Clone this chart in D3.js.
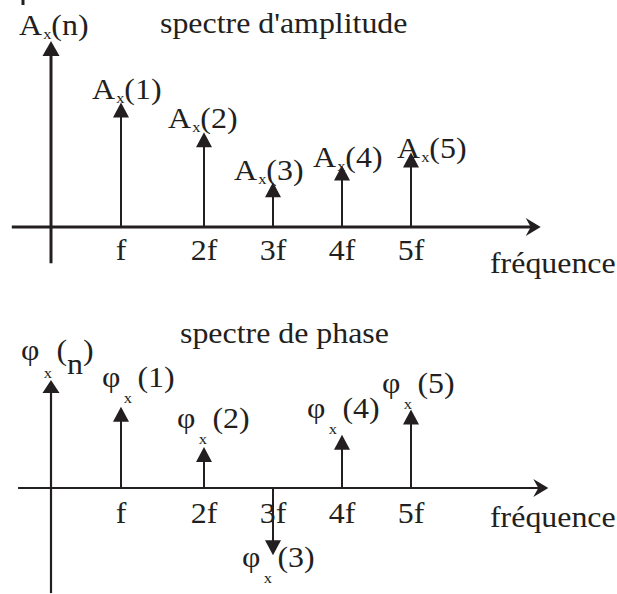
<!DOCTYPE html>
<html>
<head>
<meta charset="utf-8">
<script src="https://cdn.jsdelivr.net/npm/d3@7"></script>
<style>
  body { margin: 0; background: #fff; }
  text { font-family: "Liberation Serif", "Times New Roman", serif; fill: #231f20; }
</style>
</head>
<body>
<div id="chart"></div>
<script>
// harmonics and their values
const harmonics = [1, 2, 3, 4, 5];
const tickLabels = ["f", "2f", "3f", "4f", "5f"];
const amplitude = [6.7, 5.1, 2.4, 3.3, 4.0];
const phase = [4.35, 2.2, -3.6, 2.85, 4.2];

// label placement relative to the arrow tip (layout only)
const ampLabelOffset = [[-29, -3], [-36, -4], [-39, -2], [-29, 1], [-14, 5]];
const phaseLabelOffset = [[-19, -20], [-27, -19], [-31, 12], [-35, -17], [-29, -17]];

const width = 617, height = 594;
const ink = "#231f20";
const fs = 29;      // main font size
const sx = 1.1;     // the original lettering is a little wide

const svg = d3.select("#chart")
  .append("svg")
    .attr("width", width)
    .attr("height", height);

// shared frequency scale (harmonic index -> x)
const x = d3.scaleLinear()
  .domain([0, 1, 2, 5])
  .range([51, 121, 204, 411]);

const yAmp = d3.scaleLinear().domain([0, 10]).range([227, 41]);
const yPhase = d3.scaleLinear().domain([-6, 6]).range([600, 376]);

// put a text at (px, py) with the horizontal stretch
function label(g, px, py) {
  return g.append("text")
    .attr("transform", `translate(${px},${py}) scale(${sx},1)`)
    .attr("font-size", fs);
}

function arrowUp(g, cx, tip, w, h, dir) {
  // dir = 1 points up, -1 points down
  g.append("path")
    .attr("d", `M${cx},${tip} L${cx - w},${tip + dir * h} L${cx + w},${tip + dir * h} Z`)
    .attr("fill", ink);
}

function arrowRight(g, tip, cy) {
  g.append("path")
    .attr("d", `M${tip},${cy} L${tip - 15},${cy - 9} L${tip - 10},${cy} L${tip - 15},${cy + 9} Z`)
    .attr("fill", ink);
}

function drawAxes(g, y, yTop, yBottom, xLeft, xRight, sw, headH) {
  g.append("line")
    .attr("x1", x(xLeft)).attr("x2", x(xRight) - 8)
    .attr("y1", y(0)).attr("y2", y(0))
    .attr("stroke", ink).attr("stroke-width", sw);
  arrowRight(g, x(xRight), y(0));

  g.append("line")
    .attr("x1", x(0)).attr("x2", x(0))
    .attr("y1", y(yTop) + headH - 2).attr("y2", y(yBottom))
    .attr("stroke", ink).attr("stroke-width", sw);
  arrowUp(g, x(0), y(yTop), 8.5, headH, 1);
}

function drawStems(g, y, values) {
  values.forEach((v, i) => {
    const cx = x(harmonics[i]);
    const tip = y(v);
    const dir = v >= 0 ? 1 : -1;
    g.append("line")
      .attr("x1", cx).attr("x2", cx)
      .attr("y1", y(0)).attr("y2", tip + dir * 13)
      .attr("stroke", ink).attr("stroke-width", 2);
    arrowUp(g, cx, tip, 8, 15, dir);
  });
}

function drawTicks(g, y, dy) {
  harmonics.forEach((d, i) => {
    label(g, x(d), y(0) + dy)
      .attr("text-anchor", "middle")
      .text(tickLabels[i]);
  });
}

// ---------- amplitude spectrum ----------
const ampG = svg.append("g");
drawAxes(ampG, yAmp, 10, -1.95, -0.56, 6.88, 3, 15);
drawStems(ampG, yAmp, amplitude);
drawTicks(ampG, yAmp, 33);

ampG.append("line")
  .attr("x1", 23).attr("x2", 23).attr("y1", 0).attr("y2", 5)
  .attr("stroke", ink).attr("stroke-width", 3);

function ampText(g, px, py, idx) {
  const t = label(g, px, py);
  t.append("tspan").text("A");
  t.append("tspan").attr("font-size", 15).attr("dx", 1).attr("dy", 4).text("x");
  t.append("tspan").attr("dy", -4).text(`(${idx})`);
}

ampText(ampG, 19, 35, "n");
amplitude.forEach((v, i) => {
  const [ox, oy] = ampLabelOffset[i];
  ampText(ampG, x(harmonics[i]) + ox, yAmp(v) + oy, harmonics[i]);
});

label(ampG, 160, 33).text("spectre d'amplitude");
label(ampG, 490, yAmp(0) + 46).text("fréquence");

// ---------- phase spectrum ----------
const phaseG = svg.append("g");
drawAxes(phaseG, yPhase, 5.78, -5.63, -0.47, 6.99, 2.2, 13);
drawStems(phaseG, yPhase, phase);
drawTicks(phaseG, yPhase, 35);

function phiText(g, px, py, idx) {
  const t = label(g, px, py);
  t.append("tspan").text("φ");
  t.append("tspan").attr("font-size", 15).attr("dx", 3).attr("dy", 16).text("x");
  t.append("tspan").attr("dx", 5).attr("dy", -16).text(`(${idx})`);
}

phase.forEach((v, i) => {
  const [ox, oy] = phaseLabelOffset[i];
  phiText(phaseG, x(harmonics[i]) + ox, yPhase(v) + oy, harmonics[i]);
});

// axis name φx(n) with the lowered n
const yName = label(phaseG, 21, 360);
yName.append("tspan").text("φ");
yName.append("tspan").attr("font-size", 15).attr("dx", 4).attr("dy", 18).text("x");
yName.append("tspan").attr("dx", 4).attr("dy", -18).text("(");
yName.append("tspan").attr("dy", 14).text("n");
yName.append("tspan").attr("dy", -14).text(")");

label(phaseG, 180, 343).text("spectre de phase");
label(phaseG, 490, yPhase(0) + 39).text("fréquence");
</script>
</body>
</html>
